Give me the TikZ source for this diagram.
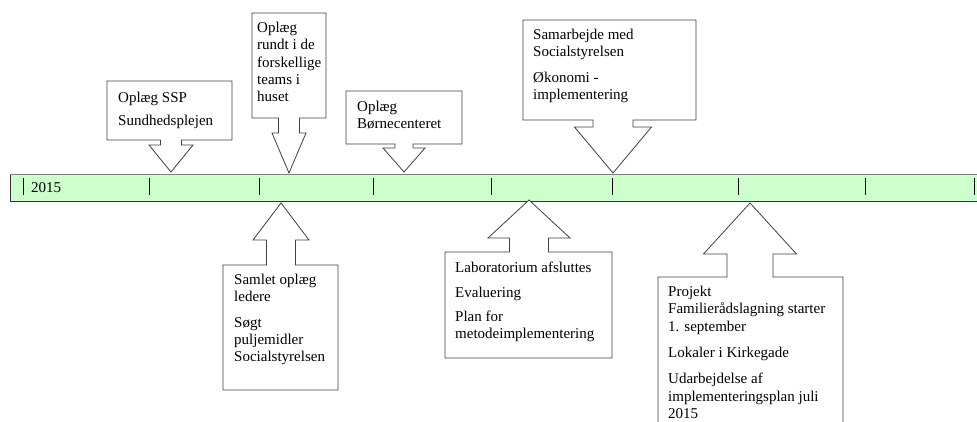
\documentclass[tikz,border=0pt]{standalone}
\usepackage{fontspec}
\setmainfont{Liberation Serif}
\definecolor{bargreen}{HTML}{CCFFCC}
\begin{document}
\begin{tikzpicture}[x=1pt, y=-1pt, font=\fontsize{15}{17.3}\selectfont, line join=miter,
		txt/.style={anchor=north west, inner sep=0pt, align=left},
		callout/.style={draw=black!75, fill=white, line width=0.8pt}]
	\useasboundingbox (0,0) rectangle (977,421);
	\fill[bargreen] (10,174) rectangle (990,201);
	\draw[black!80] (990,201) -- (10,201) -- (10,174);
	\draw[gray] (10,174) -- (990,174);
	\foreach \t in {23,149,259,373,491,612,738,865,974}\draw[line width=0.8pt] (\t,178) -- (\t,195);
	\node[anchor=base west, inner sep=0pt] (yr) at (31,192) {2015};
	\foreach \la/\ra/\fa/\na/\xa/\ya/\sa/\wa/\ha in {107/232/81/140/171/172/10.5/22/145,
			252/326/13/118/289/173/10.5/17/133, 346/462/91/144/404/172/9/21/148,
			523/696/20/120/613/173/20/38.5/127, 223/338/390/265/281/203/14.5/28/240,
			445/612/358/252/529/200/19.5/41/238, 658/843/425/277/750/203/23/46.5/254}
		\draw[callout] (\la,\fa) -- (\ra,\fa) -- (\ra,\na) -- ({\xa+\sa},\na) -- ({\xa+\sa},\ha) -- ({\xa+\wa},\ha)
			-- (\xa,\ya) -- ({\xa-\wa},\ha) -- ({\xa-\sa},\ha) -- ({\xa-\sa},\na) -- (\la,\na) -- cycle;
	\node[txt] (ssp) at (118,92) {Oplæg SSP\\[6pt]Sundhedsplejen};
	\node[txt] (teams) at (257,22) {Oplæg\\rundt i de\\forskellige\\teams i\\huset};
	\node[txt] (boern) at (357,101) {Oplæg\\Børnecenteret};
	\node[txt] (samarb) at (533,29) {Samarbejde med\\Socialstyrelsen\\[8pt]Økonomi -\\implementering};
	\node[txt] (ledere) at (234,274) {Samlet oplæg\\ledere\\[8pt]Søgt\\puljemidler\\Socialstyrelsen};
	\node[txt] (lab) at (455,262) {Laboratorium afsluttes\\[7pt]Evaluering\\[7pt]Plan for\\metodeimplementering};
	\node[txt] (projekt) at (668,286) {Projekt\\Familierådslagning starter\\1. september\\[9pt]Lokaler i Kirkegade\\[9pt]Udarbejdelse af\\implementeringsplan juli\\2015};
\end{tikzpicture}
\end{document}
